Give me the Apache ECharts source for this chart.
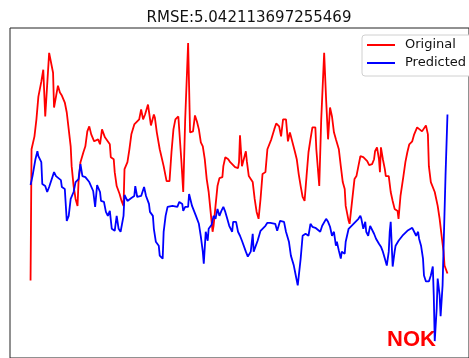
<!DOCTYPE html>
<html>
<head>
<meta charset="utf-8">
<script src="https://cdn.jsdelivr.net/npm/echarts@6/dist/echarts.min.js"></script>
<style>
  html, body { margin: 0; padding: 0; background: #fff; }
  #chart { width: 469px; height: 358px; }
</style>
</head>
<body>
<div id="chart"></div>
<script>
const titleText = 'RMSE:5.042113697255469';
const seriesNames = ['Original', 'Predicted'];

// sample index, value
const originalT = [0,1,4,6,8,11,13,15,17,19,21,23,24,26,28,30,32,35,37,39,41,42,44,46,48,49,51,54,56,58,60,62,65,67,69,71,73,75,76,78,81,82,85,86,88,91,93,95,96,99,101,103,106,108,111,113,115,117,120,122,123,126,127,129,132,136,139,142,144,146,148,151,152,154,156,158,161,162,163,166,168,170,172,174,176,178,180,182,184,186,187,189,191,193,196,197,199,202,204,206,209,212,213,214,216,218,220,221,223,225,227,229,231,233,235,237,240,242,244,246,249,251,254,256,258,261,263,265,267,270,272,274,276,278,280,282,284,286,288,291,292,295,297,300,302,304,306,308,310,312,315,317,319,321,322,325,326,328,331,333,335,337,340,342,344,346,349,351,352,354,356,357,358,360,362,363,366,368,370,372,375,376,378,381,383,385,387,390,392,395,397,400,402,404,406,407,409,411,413,416,418,420,422,423,426];
const originalV = [7.6,20.8,22.1,23.8,26.1,27.6,28.8,24.1,24.2,30.5,30.6,28.5,25.0,26.1,27.2,26.5,26.2,25.5,24.5,22.8,21.1,19.1,17.1,15.8,15.1,17.5,19.5,20.5,21.1,22.6,23.1,22.3,21.6,21.5,21.8,21.3,22.8,22.8,22.0,22.1,21.3,20.0,19.8,18.5,17.1,16.3,15.6,15.1,18.8,19.5,20.8,22.3,23.3,23.5,23.8,24.8,23.8,24.3,25.3,25.1,23.2,24.3,24.0,22.5,20.8,19.1,17.6,17.6,20.5,22.8,23.8,24.1,24.2,19.8,16.5,23.8,31.5,27.1,22.5,22.6,24.2,23.6,22.8,21.5,21.1,19.8,17.8,16.5,14.5,12.5,13.1,15.1,17.1,17.9,18.0,19.1,20.0,19.8,19.5,19.3,19.0,18.9,19.5,22.2,19.1,18.9,20.6,19.6,18.1,18.1,17.5,15.8,14.5,13.8,15.8,18.3,18.5,20.8,21.0,21.8,22.8,23.4,23.1,22.1,23.8,23.8,21.6,22.5,22.3,20.6,19.8,18.3,17.1,16.0,15.6,18.1,20.5,21.8,23.0,23.0,20.8,17.1,23.8,30.5,25.8,21.8,25.0,24.1,22.5,21.8,20.8,19.1,17.5,16.8,15.1,13.6,13.3,15.1,17.8,18.1,19.1,20.1,20.0,19.8,19.6,19.2,19.3,19.8,20.6,21.0,19.8,18.5,21.0,19.8,18.8,18.1,18.1,16.5,15.6,14.8,14.6,13.8,16.1,18.1,19.5,20.5,21.3,21.6,22.3,23.0,22.8,22.6,22.5,23.2,22.3,19.1,17.5,17.5,16.5,15.1,13.8,12.1,10.5,9.1,8.3];

const predictedT = [0,2,5,7,8,11,12,15,17,19,21,24,26,28,31,32,35,37,39,41,44,46,49,51,53,56,58,60,62,64,66,68,71,72,75,77,79,81,83,86,88,90,92,95,96,99,101,103,106,107,109,111,113,116,118,121,122,125,126,128,131,132,135,136,138,140,142,145,147,150,152,155,156,158,161,162,165,167,169,172,174,176,177,179,181,182,185,187,189,191,193,195,197,199,201,203,206,207,210,212,214,216,218,220,222,225,227,228,230,232,235,237,240,242,245,247,250,252,255,257,259,261,264,266,269,271,273,276,278,281,284,286,288,291,293,296,298,302,304,306,308,310,312,313,315,317,318,321,322,325,327,330,332,335,337,338,340,342,343,345,347,349,351,353,356,358,360,362,364,366,367,368,370,372,373,376,378,380,382,385,387,390,392,394,396,397,399,401,402,404,406,407,409,411,412,413,415,416,418,419,421,422,424,426];
const predictedV = [17.2,18.1,19.8,20.6,20.1,19.5,17.3,17.1,16.5,17.0,17.6,18.5,18.1,17.9,17.7,17.0,16.8,13.6,14.1,15.8,16.5,17.5,17.8,19.3,18.1,18.0,18.2,17.5,17.3,16.6,15.0,17.2,16.5,15.6,15.5,14.5,14.1,14.6,12.8,12.6,14.1,12.8,12.5,14.1,16.2,15.6,15.7,15.9,16.1,17.1,16.0,16.1,16.1,17.0,16.1,15.3,14.5,14.1,12.8,11.5,11.1,10.1,9.8,12.5,14.1,15.0,15.1,15.1,15.1,15.0,15.5,15.3,14.6,15.0,15.0,16.3,15.1,15.0,14.1,13.3,12.0,10.5,9.3,12.5,11.6,12.8,13.2,14.1,13.8,14.8,14.1,14.6,15.0,14.5,13.8,13.1,12.5,13.5,13.5,12.5,12.1,11.6,11.5,10.5,10.0,10.5,12.3,10.5,10.3,11.6,12.6,12.5,13.1,13.4,13.4,13.6,13.3,12.6,13.6,13.4,13.5,12.5,11.5,10.1,9.1,8.1,7.1,9.8,12.1,12.3,12.1,13.3,13.0,12.9,12.8,12.5,13.1,13.8,13.5,13.0,12.1,12.5,11.1,11.5,10.6,9.8,10.5,10.3,11.5,12.8,13.0,13.3,13.5,13.8,14.1,13.8,12.8,13.5,12.5,12.1,13.1,13.0,12.3,11.8,11.3,11.0,10.5,9.8,9.1,10.5,12.5,13.5,9.0,10.5,11.1,11.6,11.8,12.1,12.3,12.6,12.8,12.9,12.9,12.1,12.5,11.8,11.1,9.8,8.1,7.5,7.3,7.5,8.1,9.0,6.1,1.5,4.8,7.8,6.1,4.0,7.1,10.8,18.1,24.3];

const zip = (t, v) => t.map((x, i) => [x, v[i]]);

const chart = echarts.init(document.getElementById('chart'), null, { renderer: 'canvas' });

chart.setOption({
  animation: false,
  backgroundColor: '#fff',
  title: {
    text: titleText,
    left: 244,
    textAlign: 'center',
    top: 6,
    textStyle: {
      fontFamily: 'DejaVu Sans',
      fontSize: 15,
      fontWeight: 'normal',
      color: '#111'
    }
  },
  legend: {
    data: seriesNames,
    orient: 'vertical',
    left: 362,
    top: 35,
    padding: [2, 12, 5, 5],
    itemGap: 2,
    itemWidth: 28,
    itemHeight: 2,
    icon: 'rect',
    backgroundColor: '#fff',
    borderColor: '#d0d0d0',
    borderWidth: 1,
    borderRadius: 3,
    textStyle: {
      fontFamily: 'DejaVu Sans',
      fontSize: 13,
      lineHeight: 16,
      color: '#111',
      padding: [0, 0, 0, 5]
    }
  },
  grid: {
    left: 10,
    top: 28,
    width: 469,
    height: 332,
    show: true,
    borderColor: '#222',
    borderWidth: 1,
    backgroundColor: 'transparent'
  },
  xAxis: {
    type: 'value',
    min: -21,
    max: 448,
    axisLine: { show: false },
    axisTick: { show: false },
    axisLabel: { show: false },
    splitLine: { show: false }
  },
  yAxis: {
    type: 'value',
    min: -0.2,
    max: 33,
    axisLine: { show: false },
    axisTick: { show: false },
    axisLabel: { show: false },
    splitLine: { show: false }
  },
  series: [
    {
      name: seriesNames[0],
      type: 'line',
      data: zip(originalT, originalV),
      showSymbol: false,
      lineStyle: { color: '#ff0000', width: 1.8 },
      itemStyle: { color: '#ff0000' }
    },
    {
      name: seriesNames[1],
      type: 'line',
      data: zip(predictedT, predictedV),
      showSymbol: false,
      lineStyle: { color: '#0000ff', width: 1.8 },
      itemStyle: { color: '#0000ff' }
    }
  ],
  graphic: [
    {
      type: 'text',
      left: 387,
      top: 329,
      style: {
        text: 'NOK',
        fill: '#ff0000',
        font: 'bold 22px "Liberation Sans"'
      }
    }
  ]
});

window.addEventListener('resize', () => {
  chart.resize();
});
</script>
</body>
</html>
